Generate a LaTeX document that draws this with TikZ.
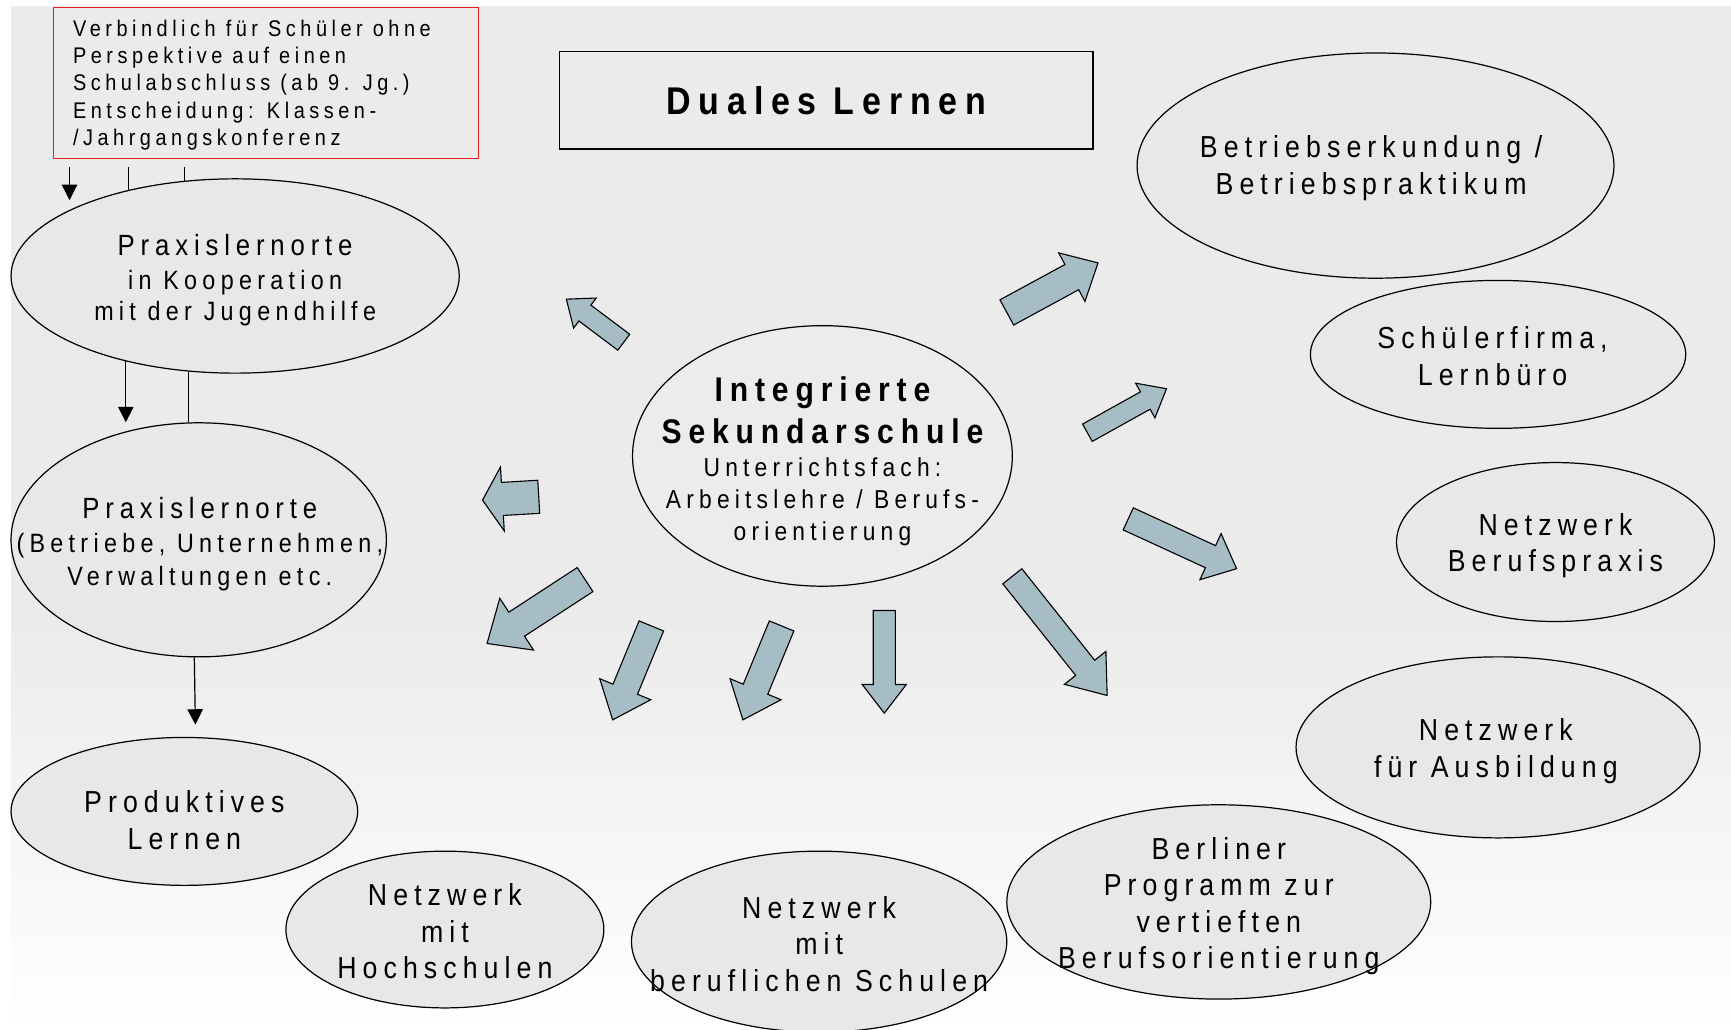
\documentclass[tikz,border=0pt]{standalone}
\usepackage{fontspec}
\setmainfont{Liberation Sans}[FakeStretch=0.88,LetterSpace=20]
\usetikzlibrary{arrows.meta,calc,shapes.geometric}
\definecolor{bg}{RGB}{235,235,235}
\definecolor{ellf}{RGB}{232,232,232}
\definecolor{ellc}{RGB}{236,236,236}
\definecolor{arrf}{RGB}{166,189,197}
\definecolor{redb}{RGB}{226,30,30}
\tikzset{
  bubble/.style={ellipse, draw=black, line width=1.1pt, fill=ellf, inner sep=0pt},
  lbl/.style={align=center, inner sep=0pt, font=\fontsize{27.5}{33}\selectfont},
  barrow/.style={draw=black, line width=1pt, fill=arrf, line join=miter},
  conn/.style={line width=1.1pt},
  connarr/.style={line width=1.1pt, -{Triangle[width=14pt,length=14pt]}}
}
% tail x, tail y, angle, length, half body, half head, head length
\newcommand\blockarr[7]{%
  \begin{scope}[shift={(#1,#2)},rotate=#3]
    \draw[barrow] (0,-#5) -- (#4-#7,-#5) -- (#4-#7,-#6) -- (#4,0) -- (#4-#7,#6) -- (#4-#7,#5) -- (0,#5) -- cycle;
  \end{scope}}
\begin{document}
\begin{tikzpicture}[x=1pt,y=-1pt]
\useasboundingbox (0,0) rectangle (1568,933);
% background
\fill[white] (0,0) rectangle (1568,933);
\fill[bg] (10,5) rectangle (1568,933);
\shade[top color=bg, bottom color=white] (10,560) rectangle (1568,933);

% red note box
\node[draw=redb, line width=1.3pt, fill=bg, minimum width=385pt, minimum height=137pt, inner sep=0pt, anchor=north west] (rb) at (48,6) {};
\node[anchor=west, align=left, inner sep=0pt, font=\fontsize{20.5}{24.8}\selectfont] (rbt) at (66,77) {Verbindlich für Schüler ohne\\Perspektive auf einen\\Schulabschluss (ab 9. Jg.)\\Entscheidung: Klassen-\\/Jahrgangskonferenz};

% title box
\node[draw=black, line width=1.1pt, fill=bg, minimum width=483pt, minimum height=88pt, inner sep=0pt] (dl) at (748.5,91) {};
\node[inner sep=0pt, font=\fontsize{35}{40}\selectfont\bfseries] (dlt) at (dl) {Duales Lernen};

% left ellipses
\node[bubble, minimum width=406pt, minimum height=176pt] (jh) at (213,250) {};
\node[lbl, font=\fontsize{24}{28.5}\selectfont] (jht) at (213,254) {{\fontsize{26.5}{31}\selectfont Praxislernorte}\\[2pt]in Kooperation\\mit der Jugendhilfe};

\node[bubble, minimum width=340pt, minimum height=212pt] (pb) at (180,489) {};
\node[lbl, font=\fontsize{24}{30}\selectfont] (pbt) at (181,493) {{\fontsize{26.5}{30}\selectfont Praxislernorte}\\(Betriebe, Unternehmen,\\Verwaltungen etc.};

\node[bubble, minimum width=314pt, minimum height=134pt] (pl) at (167,735) {};
\node[lbl] (plt) at (167,743) {Produktives\\Lernen};

% bottom ellipses
\node[bubble, minimum width=288pt, minimum height=142pt] (nh) at (403,842) {};
\node[lbl] (nht) at (403,843.5) {Netzwerk\\mit\\Hochschulen};

\node[bubble, minimum width=340pt, minimum height=164pt] (ns) at (742,853) {};
\node[lbl] (nst) at (742,855) {Netzwerk\\mit\\beruflichen Schulen};

\node[bubble, minimum width=384pt, minimum height=176pt] (bp) at (1104,817) {};
\node[lbl] (bpt) at (1104,821) {Berliner\\Programm zur\\vertieften\\Berufsorientierung};

% right ellipses
\node[bubble, minimum width=432pt, minimum height=204pt] (be) at (1246,150) {};
\node[lbl] (bet) at (1242,152.5) {Betriebserkundung /\\Betriebspraktikum};

\node[bubble, minimum width=340pt, minimum height=134pt] (sf) at (1357,321) {};
\node[lbl] (sft) at (1352,322.5) {Schülerfirma,\\Lernbüro};

\node[bubble, minimum width=288pt, minimum height=144pt] (nb) at (1409,491) {};
\node[lbl] (nbt) at (1409,494.5) {Netzwerk\\Berufspraxis};

\node[bubble, minimum width=366pt, minimum height=164pt] (na) at (1357,677) {};
\node[lbl] (nat) at (1355,680.5) {Netzwerk\\für Ausbildung};

% centre
\node[bubble, fill=ellc, minimum width=344pt, minimum height=236pt] (is) at (745,413) {};
\node[lbl, font=\fontsize{23.5}{28.5}\selectfont] (ist) at (745,417.5) {{\fontsize{31}{37}\selectfont\bfseries Integrierte}\\[8.5pt]{\fontsize{31}{37}\selectfont\bfseries Sekundarschule}\\[1.5pt]Unterrichtsfach:\\[0.5pt]Arbeitslehre / Berufs-\\orientierung};

% connectors
\draw[connarr] ($(rb.south west)+(15,7)$) -- ++(0,30);
\draw[conn] ($(jh.141.4 |- rb.south)+(0,7)$) -- (jh.141.4);
\draw[conn] ($(jh.118.2 |- rb.south)+(0,7)$) -- (jh.118.2);
\draw[connarr] (jh.218.6) -- (jh.218.6 |- pb.north);
\draw[conn] (jh.244) -- (jh.244 |- pb.north);
\draw[connarr] ($(pb.south)+(-4,0)$) -- ($(pb.south |- pl.north)+(-3,-11)$);

% block arrows
\blockarr{565}{310}{143.1}{65}{9}{17}{21}
\blockarr{488}{450}{183.4}{51}{15}{29}{18}
\blockarr{530}{525}{213.1}{106}{13}{28}{32}
\blockarr{590}{567}{247.6}{92}{12}{25}{30}
\blockarr{708}{567}{247.6}{92}{12}{25}{30}
\blockarr{801}{553}{270}{93}{10}{20}{26}
\blockarr{917}{522}{308.5}{138}{11}{24}{32}
\blockarr{1022}{470}{-24.7}{108}{11}{23}{26}
\blockarr{985}{392}{29.1}{82}{9}{18}{22}
\blockarr{912}{283}{28.5}{94}{13}{25}{27}
\end{tikzpicture}
\end{document}
